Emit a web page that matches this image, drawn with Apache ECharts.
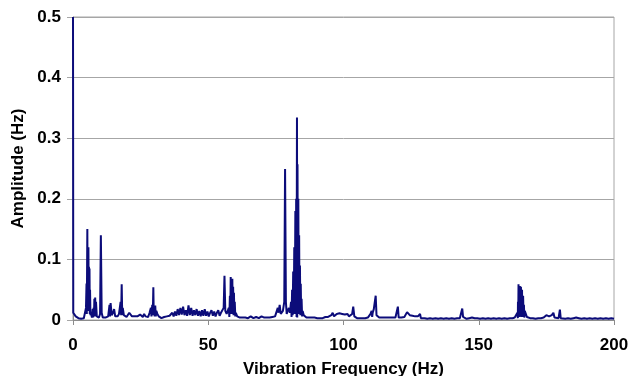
<!DOCTYPE html>
<html>
<head>
<meta charset="utf-8">
<script src="https://cdn.jsdelivr.net/npm/echarts@6/dist/echarts.min.js"></script>
<style>
  html, body { margin: 0; padding: 0; background: #fff; }
  #chart { width: 630px; height: 376px; }
</style>
</head>
<body>
<div id="chart"></div>
<script>
// spectrum: [frequency Hz, amplitude], split in bands
const lowBand = [
  [0, 0.5], [0.1, 0.012], [0.5, 0.010], [1, 0.006], [1.5, 0.004], [2, 0.003], [2.5, 0.003], [3, 0.002],
  [3.5, 0.003], [4, 0.003], [4.5, 0.004], [4.8, 0.02], [5.0, 0.06], [5.1, 0.01], [5.3, 0.150], [5.4, 0.02],
  [5.5, 0.09], [5.6, 0.015], [5.7, 0.12], [5.8, 0.02], [5.9, 0.088], [6.0, 0.02], [6.1, 0.085], [6.2, 0.01],
  [6.3, 0.05], [6.45, 0.008], [6.6, 0.012], [7.0, 0.004], [7.3, 0.018], [7.45, 0.004], [7.6, 0.02], [7.75, 0.006],
  [7.9, 0.035], [8.05, 0.008], [8.2, 0.037], [8.35, 0.006], [8.5, 0.03], [8.8, 0.006], [9.2, 0.003], [9.6, 0.004],
  [10.0, 0.01], [10.3, 0.140], [10.6, 0.012], [11.0, 0.004], [11.5, 0.005], [12, 0.004], [12.5, 0.004], [13, 0.006],
  [13.5, 0.025], [13.7, 0.006], [13.9, 0.028], [14.3, 0.008], [14.8, 0.012], [15.2, 0.018], [15.6, 0.006], [16, 0.004],
  [16.5, 0.006], [17, 0.01], [17.6, 0.03], [17.8, 0.008], [18.0, 0.059], [18.2, 0.008], [18.4, 0.02], [18.8, 0.008],
  [19.3, 0.006], [19.8, 0.005], [20.3, 0.008], [20.8, 0.012], [21.3, 0.010], [21.8, 0.006], [22.3, 0.004], [22.8, 0.006],
  [23.3, 0.008], [23.8, 0.006], [24.3, 0.005], [24.8, 0.009], [25.3, 0.007], [25.8, 0.005], [26.3, 0.01], [26.8, 0.006],
  [27.3, 0.008], [27.8, 0.005], [28.3, 0.012], [28.8, 0.02], [29.0, 0.006], [29.3, 0.025], [29.5, 0.008], [29.7, 0.054],
  [29.85, 0.008], [30.0, 0.02], [30.2, 0.006], [30.4, 0.024], [30.6, 0.006], [30.8, 0.015], [31.2, 0.01], [31.7, 0.006]
];

const midBand = [
  [32.2, 0.004], [32.7, 0.003], [33.2, 0.004], [33.7, 0.005], [34.2, 0.004], [34.7, 0.006], [35.2, 0.008], [35.7, 0.007],
  [36.2, 0.01], [36.7, 0.012], [37.2, 0.006], [37.7, 0.014], [38.2, 0.007], [38.7, 0.018], [39.2, 0.008], [39.7, 0.02],
  [40.2, 0.009], [40.7, 0.022], [41.2, 0.008], [41.7, 0.016], [42.2, 0.007], [42.7, 0.024], [43.2, 0.008], [43.7, 0.02],
  [44.2, 0.007], [44.7, 0.016], [45.2, 0.008], [45.7, 0.018], [46.2, 0.007], [46.7, 0.015], [47.2, 0.006], [47.7, 0.016],
  [48.2, 0.007], [48.7, 0.018], [49.2, 0.007], [49.7, 0.014], [50.2, 0.006], [50.7, 0.012], [51.2, 0.016], [51.7, 0.007],
  [52.2, 0.014], [52.7, 0.006], [53.2, 0.012], [53.7, 0.016], [54.2, 0.007], [54.7, 0.012], [55.2, 0.014], [55.7, 0.02],
  [56.0, 0.073], [56.3, 0.015], [56.8, 0.01], [57.2, 0.012], [57.6, 0.02], [57.8, 0.005], [58.0, 0.04], [58.15, 0.01],
  [58.3, 0.071], [58.45, 0.01], [58.6, 0.065], [58.75, 0.012], [58.9, 0.068], [59.05, 0.01], [59.2, 0.055], [59.35, 0.008],
  [59.5, 0.045], [59.65, 0.008], [59.8, 0.03], [60.0, 0.006], [60.2, 0.012], [60.7, 0.006], [61.2, 0.005], [61.7, 0.004],
  [62.2, 0.006], [62.7, 0.004], [63.2, 0.003], [63.7, 0.004], [64.2, 0.005], [64.7, 0.003], [65.2, 0.004], [65.7, 0.006],
  [66.2, 0.004], [66.7, 0.003], [67.2, 0.004], [67.7, 0.005], [68.2, 0.004], [68.7, 0.003], [69.2, 0.004], [69.7, 0.006],
  [70.2, 0.005], [70.7, 0.004], [71.2, 0.003], [71.7, 0.004], [72.2, 0.005], [72.7, 0.004], [73.2, 0.006], [73.7, 0.005],
  [74.2, 0.004], [74.7, 0.006]
];

const gearBand = [
  [75.2, 0.008], [75.7, 0.02], [76.0, 0.012], [76.4, 0.025], [76.8, 0.01], [77.2, 0.008], [77.6, 0.015], [78.1, 0.03],
  [78.4, 0.249], [78.7, 0.03], [79.0, 0.01], [79.4, 0.008], [79.8, 0.02], [80.2, 0.012], [80.6, 0.03], [80.8, 0.005],
  [81.0, 0.05], [81.2, 0.008], [81.4, 0.08], [81.6, 0.01], [81.8, 0.12], [82.0, 0.012], [82.2, 0.18], [82.35, 0.01],
  [82.5, 0.2], [82.65, 0.005], [82.8, 0.334], [82.9, 0.004], [83.0, 0.257], [83.15, 0.01], [83.3, 0.2], [83.45, 0.012],
  [83.6, 0.14], [83.75, 0.01], [83.9, 0.09], [84.05, 0.008], [84.2, 0.06], [84.35, 0.008], [84.5, 0.035], [84.7, 0.006],
  [84.9, 0.015], [85.3, 0.008], [85.8, 0.005], [86.3, 0.004], [86.8, 0.003], [87.3, 0.004], [87.8, 0.003], [88.3, 0.004],
  [88.8, 0.003], [89.3, 0.004], [89.8, 0.005]
];

const highBand = [
  [90.3, 0.003], [90.8, 0.004], [91.3, 0.003], [91.8, 0.004], [92.3, 0.003], [92.8, 0.004], [93.3, 0.005], [93.8, 0.004],
  [94.3, 0.005], [94.8, 0.006], [95.5, 0.008], [96, 0.012], [96.5, 0.006], [97, 0.009], [97.5, 0.01], [98, 0.007],
  [98.5, 0.011], [99, 0.008], [99.5, 0.01], [100, 0.012], [100.5, 0.009], [101, 0.008], [101.5, 0.01], [102, 0.006],
  [102.5, 0.008], [103.2, 0.01], [103.6, 0.022], [104, 0.006], [104.5, 0.004], [105, 0.003], [105.5, 0.004], [106, 0.003],
  [106.5, 0.004], [107, 0.003], [107.5, 0.004], [108, 0.003], [108.5, 0.004], [109, 0.004], [109.5, 0.005], [110, 0.01],
  [110.4, 0.015], [110.6, 0.005], [110.8, 0.012], [111.2, 0.018], [111.6, 0.02], [111.9, 0.040], [112.2, 0.008], [112.7, 0.005],
  [113.2, 0.004], [113.7, 0.003], [114.2, 0.004], [114.7, 0.003], [115.2, 0.004], [115.7, 0.003], [116.2, 0.004], [116.7, 0.003],
  [117.2, 0.004], [117.7, 0.003], [118.2, 0.004], [118.7, 0.003], [119.2, 0.004], [119.8, 0.004], [120.1, 0.022], [120.4, 0.004],
  [120.9, 0.003], [121.4, 0.004], [122, 0.005], [122.5, 0.005], [123, 0.008], [123.5, 0.013], [124, 0.01], [124.5, 0.008],
  [125, 0.006], [125.5, 0.007], [126, 0.005], [126.5, 0.006], [127, 0.005], [127.5, 0.006], [128, 0.004], [128.3, 0.01],
  [128.6, 0.003], [129.2, 0.003], [130, 0.003], [131, 0.002], [132, 0.003], [133, 0.002], [134, 0.003], [135, 0.002],
  [136, 0.003], [137, 0.002], [138, 0.003], [139, 0.002], [140, 0.003], [141, 0.002], [142, 0.003], [143, 0.003],
  [143.6, 0.004], [143.9, 0.019], [144.2, 0.005], [144.7, 0.003], [145.5, 0.002], [146.5, 0.003], [147.5, 0.004], [148.5, 0.003],
  [149.5, 0.003], [150.5, 0.002], [151.5, 0.003], [152.5, 0.002], [153.5, 0.003], [154.5, 0.002], [155.5, 0.003], [156.5, 0.002],
  [157.5, 0.003], [158.5, 0.002], [159.5, 0.003], [160.5, 0.002], [161.5, 0.003], [162.5, 0.003], [163.3, 0.004], [164.0, 0.005],
  [164.3, 0.012], [164.45, 0.003], [164.5, 0.03], [164.6, 0.005], [164.7, 0.059], [164.85, 0.006], [165.0, 0.04], [165.1, 0.005],
  [165.2, 0.056], [165.3, 0.006], [165.4, 0.045], [165.5, 0.006], [165.6, 0.055], [165.7, 0.006], [165.8, 0.035], [165.9, 0.005],
  [166.0, 0.05], [166.1, 0.005], [166.2, 0.03], [166.3, 0.005], [166.4, 0.04], [166.55, 0.005], [166.7, 0.025], [166.85, 0.004],
  [167.0, 0.015], [167.4, 0.01], [167.8, 0.005], [168.3, 0.004], [169, 0.003], [170, 0.003], [171, 0.002], [172, 0.003],
  [173, 0.003], [174, 0.004], [174.5, 0.004], [175, 0.008], [175.4, 0.005], [176, 0.006], [176.5, 0.009], [177, 0.008],
  [177.6, 0.012], [178, 0.004], [178.7, 0.003], [179.5, 0.003], [180, 0.017], [180.3, 0.003], [181, 0.003], [182, 0.002],
  [183, 0.003], [184, 0.002], [185, 0.003], [186, 0.004], [187, 0.003], [188, 0.002], [189, 0.003], [190, 0.002],
  [191, 0.003], [192, 0.002], [193, 0.003], [194, 0.002], [195, 0.003], [196, 0.002], [197, 0.003], [198, 0.002],
  [199, 0.003], [200, 0.002]
];

const xTicks = [0, 50, 100, 150, 200];
const yTicks = [0, 0.1, 0.2, 0.3, 0.4, 0.5];

const FONT = "'Liberation Sans', Arial, sans-serif";
const chart = echarts.init(document.getElementById("chart"), null, { renderer: "canvas" });

const spectrum = lowBand.concat(midBand, gearBand, highBand);

const option = {
  animation: false,
  backgroundColor: "#ffffff",
  grid: {
    left: 73,
    right: 16,
    top: 17,
    bottom: 56,
    containLabel: false,
    outerBoundsMode: "none",
    show: true,
    borderColor: "#a6a6a6",
    borderWidth: 1,
  },
  xAxis: {
    type: "value",
    min: xTicks[0],
    max: xTicks[xTicks.length - 1],
    interval: 50,
    name: "Vibration Frequency (Hz)",
    nameLocation: "middle",
    nameGap: 41,
    nameTextStyle: { fontFamily: FONT, fontWeight: "bold", fontSize: 17, color: "#000" },
    axisLine: { show: true, lineStyle: { color: "#8c8c8c", width: 1 } },
    axisTick: { show: true, length: 5, lineStyle: { color: "#8c8c8c" } },
    axisLabel: { margin: 17, fontFamily: FONT, fontWeight: "bold", fontSize: 17, color: "#000" },
    splitLine: { show: false },
  },
  yAxis: {
    type: "value",
    min: yTicks[0],
    max: yTicks[yTicks.length - 1],
    interval: 0.1,
    name: "Amplitude (Hz)",
    nameLocation: "middle",
    nameGap: 46,
    nameTextStyle: { fontFamily: FONT, fontWeight: "bold", fontSize: 17, color: "#000" },
    axisLine: { show: true, lineStyle: { color: "#8c8c8c", width: 1 } },
    axisTick: { show: true, length: 6, lineStyle: { color: "#a6a6a6" } },
    axisLabel: {
      margin: 12,
      fontFamily: FONT,
      fontWeight: "bold",
      fontSize: 17,
      color: "#000",
      formatter: (v) => (v === 0 ? "0" : v.toFixed(1)),
    },
    splitLine: { show: true, lineStyle: { color: "#a6a6a6", width: 1 } },
  },
  series: [
    {
      type: "line",
      data: spectrum,
      showSymbol: false,
      symbol: "none",
      lineStyle: { color: "#0c0c7a", width: 2 },
      z: 5,
    },
  ],
};

chart.setOption(option);
</script>
</body>
</html>
